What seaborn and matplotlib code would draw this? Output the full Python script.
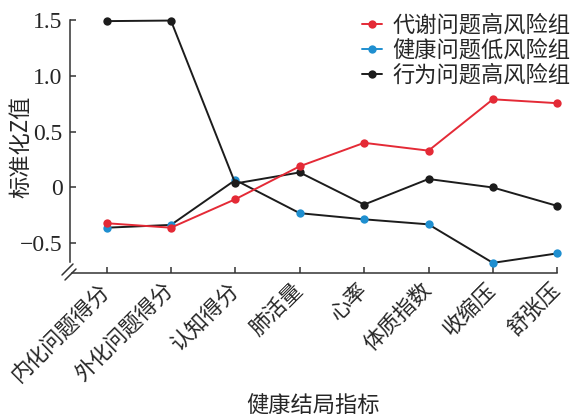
import matplotlib
matplotlib.use("Agg")
import matplotlib.pyplot as plt
from matplotlib.lines import Line2D
import seaborn as sns
import pandas as pd

categories = ["内化问题得分", "外化问题得分", "认知得分", "肺活量", "心率", "体质指数", "收缩压", "舒张压"]
metabolic_high = [-0.32, -0.36, -0.105, 0.19, 0.40, 0.33, 0.79, 0.755]
healthy_low = [-0.36, -0.335, 0.067, -0.23, -0.285, -0.33, -0.675, -0.59]
behavior_high = [1.49, 1.495, 0.036, 0.135, -0.153, 0.076, 0.0, -0.165]
series_names = ["代谢问题高风险组", "健康问题低风险组", "行为问题高风险组"]
yticks = [-0.5, 0, 0.5, 1.0, 1.5]
ytick_labels = ["\u22120.5", "0", "0.5", "1.0", "1.5"]
xlabel = "健康结局指标"
ylabel = "标准化Z值"

RED = "#e42a36"
BLUE = "#1f8fd0"
BLACK = "#1c1c1c"
TEXT = "#262626"

sns.set_style("ticks")
plt.rcParams["font.family"] = ["Noto Sans CJK SC", "DejaVu Sans"]

W, H = 587, 417
fig = plt.figure(figsize=(W / 100, H / 100), dpi=100)
L, R, T, B = 69.5, 557.3, 20.0, 272.7
ax = fig.add_axes([L / W, 1 - B / H, (R - L) / W, (B - T) / H])

x = list(range(len(categories)))
df = pd.DataFrame({"x": x, "m": metabolic_high, "h": healthy_low, "b": behavior_high})

common = dict(marker="o", markersize=6, linewidth=1.4, markeredgewidth=0, clip_on=False, ax=ax)
sns.lineplot(data=df, x="x", y="h", color=BLACK, markerfacecolor=BLUE, zorder=3, **common)
sns.lineplot(data=df, x="x", y="b", color=BLACK, markerfacecolor=BLACK, zorder=4, **common)
sns.lineplot(data=df, x="x", y="m", color=RED, markerfacecolor=RED, zorder=5, **common)

ax.set_xlim(-0.575, 7)
ax.set_ylim(-0.763, 1.5)
ax.set_xticks(x)
ax.set_xticklabels(categories, rotation=45, ha="right", va="center",
                   rotation_mode="anchor", fontsize=15.5, color=TEXT)
ax.set_yticks(yticks)
ax.set_yticklabels(ytick_labels, fontsize=17, color=TEXT)
for lbl in ax.get_yticklabels():
    lbl.set_fontfamily(["Liberation Serif", "DejaVu Serif"])
ax.tick_params(axis="both", direction="in", length=4.5, width=1.1, color="#333333")
ax.tick_params(axis="x", pad=10)
ax.tick_params(axis="y", pad=5)

for s in ["top", "right"]:
    ax.spines[s].set_visible(False)
for s in ["left", "bottom"]:
    ax.spines[s].set_linewidth(1.1)
    ax.spines[s].set_color("#333333")
ax.spines["left"].set_bounds(-0.667, 1.5)
ax.spines["bottom"].set_bounds(-0.53, 7)

# axis break marks
for (x0, y0, x1, y1) in [(62, 275, 73, 264), (65, 280, 76, 269)]:
    fig.add_artist(Line2D([x0 / W, x1 / W], [1 - y0 / H, 1 - y1 / H],
                          transform=fig.transFigure, color="#333333", linewidth=1.1))

ax.set_xlabel(xlabel, fontsize=16, color=TEXT)
ax.set_ylabel(ylabel, fontsize=16, color=TEXT)
ax.xaxis.set_label_coords(0.5, -0.48)
ax.yaxis.set_label_coords(-0.077, 0.5)

handles = [Line2D([], [], color=c, marker="o", markersize=6, markeredgewidth=0, linewidth=1.4)
           for c in (RED, BLUE, BLACK)]
ax.legend(handles, series_names, loc="upper right", bbox_to_anchor=(0.998, 1.005),
          bbox_transform=fig.transFigure, frameon=False, fontsize=16,
          handlelength=0.9, handletextpad=0.45, labelspacing=0.1, borderpad=0.2,
          labelcolor=TEXT)

fig.savefig("out.png", dpi=100)
